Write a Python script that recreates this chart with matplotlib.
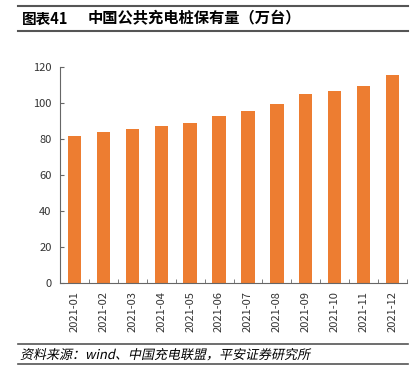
import matplotlib.pyplot as plt
import numpy as np
from matplotlib.textpath import TextPath
from matplotlib.patches import PathPatch
from matplotlib.font_manager import FontProperties
from matplotlib.transforms import Affine2D, IdentityTransform

plt.rcParams['font.family'] = ['Noto Sans CJK SC', 'DejaVu Sans']

months = ['2021-01', '2021-02', '2021-03', '2021-04', '2021-05', '2021-06',
          '2021-07', '2021-08', '2021-09', '2021-10', '2021-11', '2021-12']
piles = [81.5, 84.0, 85.5, 87.0, 89.0, 93.0, 95.3, 99.2, 104.8, 106.7, 109.6, 115.3]
yticks = [0, 20, 40, 60, 80, 100, 120]

W, H = 416, 385
fig = plt.figure(figsize=(W/100, H/100), dpi=100)
ax = fig.add_axes([60/W, 1-283/H, 347/W, 216/H])

x = np.arange(len(months))
ax.bar(x, piles, width=0.46, color='#ED7D31')
ax.set_xlim(-0.5, len(months)-0.5)
ax.set_ylim(0, 120)
ax.set_yticks(yticks)
ax.set_xticks(x)
ax.set_xticklabels(months, rotation=90, fontsize=8, color='#333333')
ax.tick_params(axis='x', length=0, pad=6)
ax.set_xticks(np.arange(len(months)+1)-0.5, minor=True)
ax.tick_params(axis='x', which='minor', direction='in', length=3, color='#666666')
ax.tick_params(axis='y', direction='in', length=3, labelsize=8, pad=6,
               colors='#666666', labelcolor='#333333')
for s in ['top', 'right']:
    ax.spines[s].set_visible(False)
for s in ['left', 'bottom']:
    ax.spines[s].set_color('#666666')
    ax.spines[s].set_linewidth(0.8)

# title block
fig.add_artist(plt.Line2D([18/W, 408/W], [1-6/H, 1-6/H], color='#555555', lw=1.5))
fig.add_artist(plt.Line2D([18/W, 408/W], [1-31/H, 1-31/H], color='#555555', lw=1.5))
fig.text(22/W, 1-18.5/H, '图表41', fontsize=10.5, fontweight='bold', va='center')
fig.text(88/W, 1-18.5/H, '中国公共充电桩保有量（万台）', fontsize=11, fontweight='bold', va='center')

# source block (italic via skewed text path, CJK font has no italic)
fig.add_artist(plt.Line2D([18/W, 408/W], [1-344/H, 1-344/H], color='#555555', lw=1.2))
fig.add_artist(plt.Line2D([18/W, 408/W], [1-364/H, 1-364/H], color='#555555', lw=1.2))
src = '资料来源：wind、中国充电联盟，平安证券研究所'
tp = TextPath((0, 0), src, size=13.0, prop=FontProperties(family='Noto Sans CJK SC'))
tr = Affine2D().skew_deg(12, 0).translate(20, H-359)
fig.add_artist(PathPatch(tr.transform_path(tp), transform=IdentityTransform(),
                         facecolor='black', edgecolor='none'))

fig.savefig('out.png', dpi=100)
